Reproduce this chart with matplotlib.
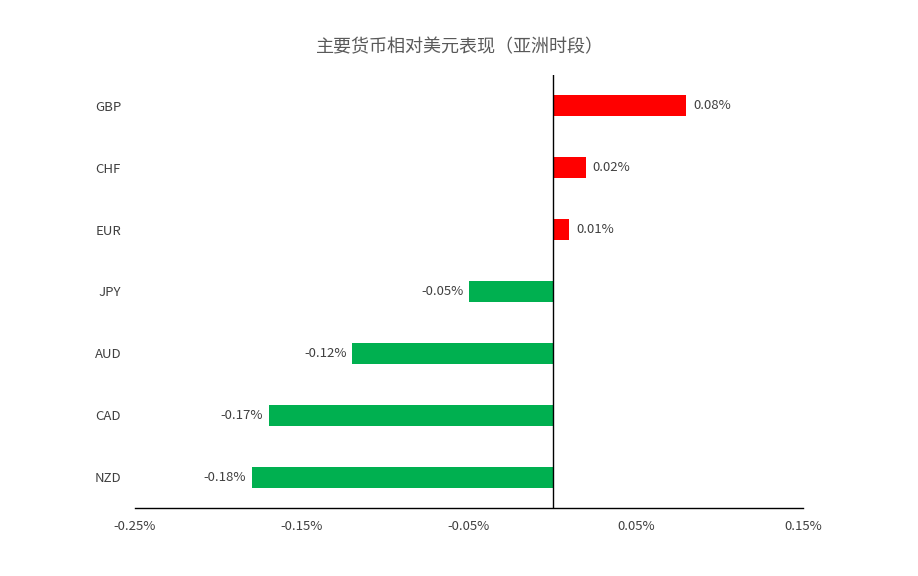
import matplotlib
matplotlib.use("Agg")
import matplotlib.pyplot as plt
from matplotlib.ticker import FuncFormatter

plt.rcParams['font.family'] = ['Noto Sans CJK SC', 'DejaVu Sans']

# data (percent change vs USD, Asian session)
currencies = ['GBP', 'CHF', 'EUR', 'JPY', 'AUD', 'CAD', 'NZD']
changes = [0.08, 0.02, 0.01, -0.05, -0.12, -0.17, -0.18]
value_labels = ['0.08%', '0.02%', '0.01%', '-0.05%', '-0.12%', '-0.17%', '-0.18%']
x_ticks = [-0.25, -0.15, -0.05, 0.05, 0.15]

up_color = '#FF0000'
down_color = '#00B050'
text_color = '#404040'

fig = plt.figure(figsize=(9.18, 5.76), dpi=100)
ax = fig.add_axes([135 / 918, 68 / 576, 668 / 918, 433 / 576])

ypos = list(range(len(currencies)))
colors = [up_color if v >= 0 else down_color for v in changes]
ax.barh(ypos, changes, height=0.34, color=colors)

# value labels outside bar ends
for y, v, lab in zip(ypos, changes, value_labels):
    if v >= 0:
        ax.annotate(lab, (v, y), xytext=(5, 0), textcoords='offset points',
                    ha='left', va='center', fontsize=9.5, color=text_color)
    else:
        ax.annotate(lab, (v, y), xytext=(-4, 0), textcoords='offset points',
                    ha='right', va='center', fontsize=9.5, color=text_color)

# zero line
ax.axvline(0, color='black', linewidth=1)

ax.set_xlim(-0.25, 0.15)
ax.set_ylim(len(currencies) - 0.5, -0.5)
ax.set_xticks(x_ticks)
ax.xaxis.set_major_formatter(FuncFormatter(lambda x, p: f'{x:.2f}%'))
ax.set_yticks(ypos)
ax.set_yticklabels(currencies)

ax.tick_params(axis='x', length=0, pad=9, labelsize=9.5, labelcolor=text_color)
ax.tick_params(axis='y', length=0, pad=10, labelsize=9.5, labelcolor=text_color)

for s in ['top', 'right', 'left']:
    ax.spines[s].set_visible(False)
ax.spines['bottom'].set_color('black')
ax.spines['bottom'].set_linewidth(1)

fig.text(460 / 918, 1 - 47 / 576, '主要货币相对美元表现（亚洲时段）',
         ha='center', va='center', fontsize=13, color='#595959')

fig.savefig('out.png', dpi=100, facecolor='white')
